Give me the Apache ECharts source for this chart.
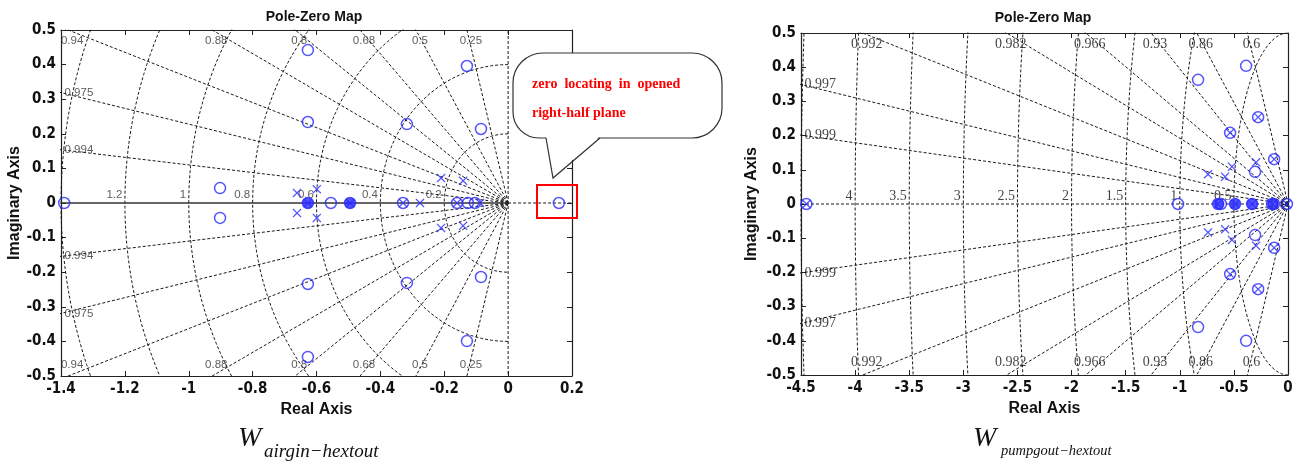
<!DOCTYPE html>
<html>
<head>
<meta charset="utf-8">
<script src="https://cdn.jsdelivr.net/npm/echarts@6.0.0/dist/echarts.min.js"></script>
<style>
  html, body { margin: 0; padding: 0; background: #fff; }
  #chart { width: 1299px; height: 466px; }
</style>
</head>
<body>
<div id="chart"></div>
<script>
// axis ranges
const leftX = [-1.4, 0.2];
const rightX = [-4.5, 0];
const imagRange = [-0.5, 0.5];

// grid: damping ratios and natural frequencies
const leftZeta = [0.994, 0.975, 0.94, 0.88, 0.8, 0.68, 0.5, 0.25];
const leftWn = [0.2, 0.4, 0.6, 0.8, 1, 1.2, 1.4];
const leftWnLabels = [0.2, 0.4, 0.6, 0.8, 1, 1.2];
const rightZeta = [0.999, 0.997, 0.992, 0.982, 0.966, 0.93, 0.86, 0.6];
const rightWn = [0.5, 1, 1.5, 2, 2.5, 3, 3.5, 4, 4.5];
const rightWnLabels = [0.5, 1, 1.5, 2, 2.5, 3, 3.5, 4];

// W airgin-hextout
const leftZerosRe = [-1.39, -0.902, -0.902, -0.627, -0.627, -0.627, -0.627, -0.627, -0.555, -0.495, -0.329, -0.317, -0.317, -0.160, -0.129, -0.129, -0.126, -0.104, -0.085, -0.085, 0.159];
const leftZerosIm = [0, 0.043, -0.043, 0.442, 0.234, 0, -0.234, -0.445, 0, 0, 0, 0.228, -0.231, 0, 0.396, -0.399, 0, 0, 0.214, -0.214, 0];
const leftPolesRe = [-0.661, -0.661, -0.599, -0.599, -0.627, -0.495, -0.329, -0.276, -0.210, -0.210, -0.160, -0.141, -0.141, -0.088];
const leftPolesIm = [0.029, -0.029, 0.040, -0.043, 0, 0, 0, 0, 0.072, -0.072, 0, 0.064, -0.066, 0];
const leftClusterRe = [-0.627, -0.495];

// W pumpgout-hextout
const rightZerosRe = [-4.45, -1.016, -0.646, -0.62, -0.489, -0.332, -0.147, -0.13, -0.01, -0.831, -0.831, -0.387, -0.387, -0.276, -0.276, -0.535, -0.535, -0.128, -0.128, -0.304, -0.304];
const rightZerosIm = [0, 0, 0, 0, 0, 0, 0, 0, 0, 0.363, -0.36, 0.404, -0.40, 0.254, -0.249, 0.208, -0.205, 0.131, -0.128, 0.094, -0.091];
const rightPolesRe = [-4.45, -0.646, -0.489, -0.332, -0.147, -0.01, -0.276, -0.276, -0.535, -0.535, -0.128, -0.128, -0.739, -0.739, -0.581, -0.581, -0.518, -0.518, -0.295, -0.295];
const rightPolesIm = [0, 0, 0, 0, 0, 0, 0.254, -0.249, 0.208, -0.205, 0.131, -0.128, 0.087, -0.083, 0.080, -0.074, 0.109, -0.105, 0.122, -0.122];
const rightClusterRe = [-0.64, -0.49, -0.33, -0.14];

const blue = '#2a2aff';
const tickFont = '"Liberation Sans Narrow", "DejaVu Sans Condensed", Arial, sans-serif';
const dotStyle = { color: '#1a1a1a', width: 1, type: [3, 2] };
const crossPath = 'path://M1,0L5,4L9,0L10,1L6,5L10,9L9,10L5,6L1,10L0,9L4,5L0,1Z';

const chart = echarts.init(document.getElementById('chart'));

function fmt(v) { return String(Math.round(v * 100) / 100); }

function pairs(re, im) { return re.map((x, i) => [x, im[i]]); }

// dotted damping rays + frequency semicircles
function gridLines(ai, zetas, radii) {
  const out = [];
  const add = (pts, style) => out.push({
    type: 'line', xAxisIndex: ai, yAxisIndex: ai, data: pts, symbol: 'none',
    clip: true, silent: true, z: 1, lineStyle: style || dotStyle
  });
  zetas.forEach(z => {
    const w = Math.sqrt(1 - z * z);
    add([[0, 0], [-20 * z, 20 * w]]);
    add([[0, 0], [-20 * z, -20 * w]]);
  });
  radii.forEach(r => {
    const pts = [];
    for (let k = 0; k <= 120; k++) {
      const a = Math.PI / 2 + Math.PI * k / 120;
      pts.push([r * Math.cos(a), r * Math.sin(a)]);
    }
    add(pts);
  });
  return { out, add };
}

function labelSeries(ai, data, position, dist, font) {
  return {
    type: 'scatter', xAxisIndex: ai, yAxisIndex: ai, data: data, symbolSize: 1,
    silent: true, z: 2, itemStyle: { color: 'transparent' },
    label: Object.assign({ show: true, formatter: '{b}', position: position, distance: dist }, font)
  };
}

function zetaLabels(ai, zetas, xmin, ymax, font) {
  const top = [], bottom = [], side = [];
  zetas.forEach(z => {
    const w = Math.sqrt(1 - z * z);
    const xt = -ymax * z / w;
    const name = String(z);
    if (xt >= xmin) {
      top.push({ value: [xt, ymax], name });
      bottom.push({ value: [xt, -ymax], name });
    } else {
      const yl = -xmin * w / z;
      side.push({ value: [xmin, yl], name }, { value: [xmin, -yl], name });
    }
  });
  const t = labelSeries(ai, top, 'bottom', 4, font);
  t.label.offset = [4, 0];
  const b = labelSeries(ai, bottom, 'top', 5, font);
  b.label.offset = [4, 0];
  return [t, b, labelSeries(ai, side, 'right', 3, font)];
}

function wnLabels(ai, radii, font) {
  const data = radii.map(r => ({ value: [-r, 0], name: String(r) }));
  const s = labelSeries(ai, data, 'left', 2, font);
  s.label.offset = [0, -8];
  return s;
}

function markers(ai, zRe, zIm, pRe, pIm, cRe) {
  return [
    { type: 'scatter', xAxisIndex: ai, yAxisIndex: ai, data: pairs(cRe, cRe.map(() => 0)),
      symbol: 'circle', symbolSize: 11, z: 3, itemStyle: { color: blue } },
    { type: 'scatter', xAxisIndex: ai, yAxisIndex: ai, data: pairs(zRe, zIm),
      symbol: 'circle', symbolSize: 11, z: 4,
      itemStyle: { color: 'rgba(0,0,0,0)', borderColor: blue, borderWidth: 1.5 } },
    { type: 'scatter', xAxisIndex: ai, yAxisIndex: ai, data: pairs(pRe, pIm),
      symbol: crossPath, symbolSize: 9, z: 4, itemStyle: { color: blue } }
  ];
}

function axisPair(gi, range, interval, isX) {
  const base = {
    type: 'value', gridIndex: gi, min: range[0], max: range[1], interval: interval,
    splitLine: { show: false },
    axisLine: { show: true, onZero: false, lineStyle: { color: '#222', width: 1.2 } },
    axisTick: { show: true, inside: true, length: 5, lineStyle: { color: '#222' } }
  };
  const main = Object.assign({}, base, {
    position: isX ? 'bottom' : 'left',
    axisLabel: { show: true, formatter: fmt, fontFamily: tickFont, fontWeight: 'bold', fontSize: 15,
      color: '#111', margin: isX ? 6 : 5, showMinLabel: true, showMaxLabel: true }
  });
  const other = Object.assign({}, base, { position: isX ? 'top' : 'right', axisLabel: { show: false } });
  return [main, other];
}

const nameStyle = { fontFamily: 'Liberation Sans, Arial, sans-serif', fontWeight: 'bold', fontSize: 16, color: '#111' };

const lx = axisPair(0, leftX, 0.2, true);
const rx = axisPair(1, rightX, 0.5, true);
const ly = axisPair(0, imagRange, 0.1, false);
const ry = axisPair(1, imagRange, 0.1, false);
[lx[0], rx[0]].forEach(a => Object.assign(a, { name: 'Real Axis', nameLocation: 'middle', nameGap: 26, nameTextStyle: nameStyle }));
Object.assign(ly[0], { name: 'Imaginary Axis', nameLocation: 'middle', nameGap: 37, nameTextStyle: nameStyle });
Object.assign(ry[0], { name: 'Imaginary Axis', nameLocation: 'middle', nameGap: 41, nameTextStyle: nameStyle });

// left grid
const lg = gridLines(0, leftZeta, leftWn);
lg.add([[leftX[0], 0], [0, 0]], { color: '#333', width: 1.6, type: 'solid' });
lg.add([[0, 0], [leftX[1], 0]]);
lg.add([[0, -1], [0, 1]]);
// right grid
const rg = gridLines(1, rightZeta, rightWn);
rg.add([[rightX[0], 0], [0, 0]]);

const leftFont = { fontFamily: 'Liberation Sans, Arial, sans-serif', fontSize: 11.5, color: '#333' };
const rightFont = { fontFamily: 'Liberation Serif, Times New Roman, serif', fontSize: 14, color: '#111' };

const series = [].concat(
  lg.out,
  zetaLabels(0, leftZeta, leftX[0], imagRange[1], leftFont),
  [wnLabels(0, leftWnLabels, leftFont)],
  markers(0, leftZerosRe, leftZerosIm, leftPolesRe, leftPolesIm, leftClusterRe),
  rg.out,
  zetaLabels(1, rightZeta, rightX[0], imagRange[1], rightFont),
  [wnLabels(1, rightWnLabels, rightFont)],
  markers(1, rightZerosRe, rightZerosIm, rightPolesRe, rightPolesIm, rightClusterRe)
);

const serif = 'Liberation Serif, Times New Roman, serif';
const titleFont = 'bold 14px Liberation Sans, Arial, sans-serif';

const option = {
  animation: false,
  backgroundColor: '#fff',
  grid: [
    { left: 61, right: 727, top: 30, bottom: 90 },
    { left: 801, right: 11, top: 33, bottom: 91 }
  ],
  xAxis: [lx[0], lx[1], rx[0], rx[1]].map((a, i) => Object.assign(a, { gridIndex: i < 2 ? 0 : 1 })),
  yAxis: [ly[0], ly[1], ry[0], ry[1]].map((a, i) => Object.assign(a, { gridIndex: i < 2 ? 0 : 1 })),
  series: series.map(s => {
    // map chart index to axis index (main axes are 0 and 2)
    const k = s.xAxisIndex === 1 ? 2 : 0;
    return Object.assign(s, { xAxisIndex: k, yAxisIndex: k });
  }),
  graphic: [
    { type: 'text', x: 314, y: 17, style: { text: 'Pole-Zero Map', font: titleFont, fill: '#111', align: 'center', verticalAlign: 'middle' } },
    { type: 'text', x: 1043, y: 18, style: { text: 'Pole-Zero Map', font: titleFont, fill: '#111', align: 'center', verticalAlign: 'middle' } },
    // callout bubble
    { type: 'rect', z: 100, shape: { x: 513, y: 53, width: 209, height: 85, r: [30, 30, 30, 26] },
      style: { fill: '#fff', stroke: '#333', lineWidth: 1.2 } },
    { type: 'polygon', z: 101, shape: { points: [[546, 136], [600, 136], [553, 177]] },
      style: { fill: '#fff', stroke: 'none' } },
    { type: 'polyline', z: 102, shape: { points: [[546, 138], [553, 178], [600, 138]] },
      style: { fill: 'none', stroke: '#333', lineWidth: 1.2 } },
    { type: 'text', z: 103, x: 532, y: 84, style: { text: 'zero  locating  in  opened', font: 'bold 14px ' + serif, fill: '#ff0000', verticalAlign: 'middle' } },
    { type: 'text', z: 103, x: 532, y: 113, style: { text: 'right-half plane', font: 'bold 14px ' + serif, fill: '#ff0000', verticalAlign: 'middle' } },
    { type: 'rect', z: 100, shape: { x: 537, y: 185, width: 40, height: 33 }, style: { fill: 'none', stroke: '#ff0000', lineWidth: 2 } },
    // captions
    { type: 'text', x: 238, y: 439, style: { text: 'W', font: 'italic 28px ' + serif, fill: '#111', verticalAlign: 'middle' } },
    { type: 'text', x: 264, y: 452, style: { text: 'airgin\u2212hextout', font: 'italic 19px ' + serif, fill: '#111', verticalAlign: 'middle' } },
    { type: 'text', x: 973, y: 439, style: { text: 'W', font: 'italic 28px ' + serif, fill: '#111', verticalAlign: 'middle' } },
    { type: 'text', x: 1001, y: 451, style: { text: 'pumpgout\u2212hextout', font: 'italic 14.5px ' + serif, fill: '#111', verticalAlign: 'middle' } }
  ]
};

chart.setOption(option);
</script>
</body>
</html>
